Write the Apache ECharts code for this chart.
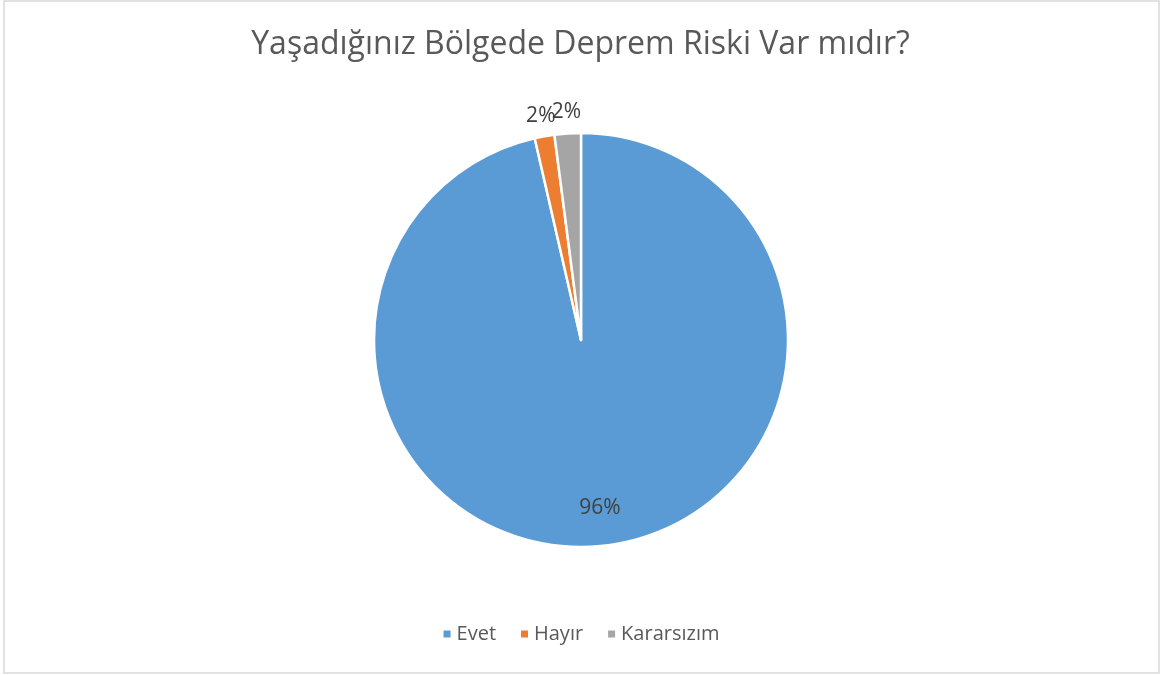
<!DOCTYPE html>
<html>
<head>
<meta charset="utf-8">
<style>
html, body { margin: 0; padding: 0; background: #fff; }
#box { width: 1161px; height: 675px; }
</style>
<script src="https://cdn.jsdelivr.net/npm/echarts@6/dist/echarts.min.js"></script>
</head>
<body>
<div id="box"></div>
<script>
var result = [{
	name: 'Yaşadığınız Bölgede Deprem Riski Var mıdır?',
	data: [
		{ name: 'Evet', value: 188 },
		{ name: 'Hayır', value: 3 },
		{ name: 'Kararsızım', value: 4 }
	]
}];

bindData(result, 'box');

function pct(params) {
	return Math.round(params.percent) + '%';
}

function bindData(result, eleIdName) {
	var myChart = echarts.init(document.getElementById(eleIdName));
	var legendData = [];
	for (var i = 0; i < result[0].data.length; i++) {
		legendData.push(result[0].data[i].name);
	}
	var center = [581, 340];
	var txt = { color: '#404040', fontSize: 21, fontFamily: 'Open Sans' };

	// transparent copies of the pie, only used to place the labels
	function labelSeries(radius, show) {
		return {
			type: 'pie',
			silent: true,
			radius: [0, radius],
			center: center,
			startAngle: 90,
			avoidLabelOverlap: false,
			labelLayout: { hideOverlap: false },
			itemStyle: { color: 'transparent', borderWidth: 0 },
			labelLine: { show: false },
			emphasis: { disabled: true },
			label: { show: false },
			data: result[0].data.map(function (d, idx) {
				return {
					name: d.name,
					value: d.value,
					label: Object.assign({ show: show[idx], position: 'inside', rotate: 0, formatter: pct }, txt)
				};
			})
		};
	}

	var option = {
		color: ['#5B9BD5', '#ED7D31', '#A5A5A5'],
		title: {
			text: result[0].name,
			left: 'center',
			top: 24,
			textStyle: { color: '#595959', fontSize: 32, fontWeight: 'normal', fontFamily: 'Open Sans' }
		},
		legend: {
			bottom: 26,
			left: 'center',
			itemWidth: 9,
			itemHeight: 9,
			itemGap: 23,
			icon: 'rect',
			textStyle: { color: '#595959', fontSize: 20, fontFamily: 'Open Sans' },
			data: legendData
		},
		graphic: [{
			type: 'rect',
			shape: { x: 4, y: 1, width: 1155, height: 672 },
			style: { fill: 'none', stroke: '#d9d9d9', lineWidth: 1.5 },
			silent: true
		}],
		series: [
			{
				name: result[0].name,
				type: 'pie',
				radius: [0, 207],
				center: center,
				startAngle: 90,
				label: { show: false },
				labelLine: { show: false },
				itemStyle: { borderColor: '#fff', borderWidth: 2.5 },
				emphasis: { disabled: true },
				data: result[0].data
			},
			labelSeries(332, [true, false, false]),
			labelSeries(450, [false, true, true])
		]
	};
	myChart.setOption(option);
}
</script>
</body>
</html>
